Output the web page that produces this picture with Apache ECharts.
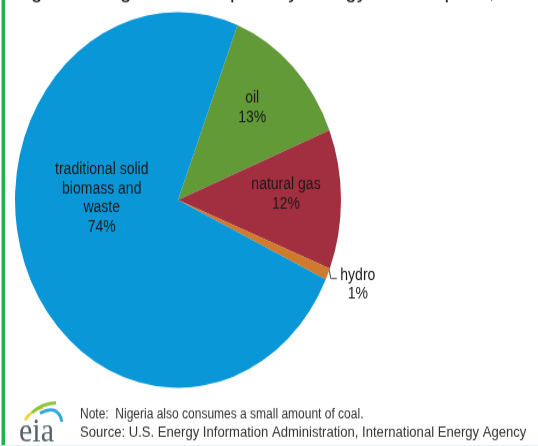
<!DOCTYPE html>
<html>
<head>
<meta charset="utf-8">
<script src="https://cdn.jsdelivr.net/npm/echarts@6/dist/echarts.min.js"></script>
<style>
  html, body { margin: 0; padding: 0; background: #fff; }
  #wrap { width: 538px; height: 446px; overflow: hidden; position: relative; background: #fff; }
  /* the figure is drawn at 538x387 and stretched vertically to fill the frame */
  #chart { width: 538px; height: 387px; transform: scaleY(1.1525); transform-origin: 0 0; }
</style>
</head>
<body>
<div id="wrap"><div id="chart"></div></div>
<script>
// Nigeria: total primary energy consumption by source (%)
const sources = ['oil', 'natural gas', 'hydro', 'traditional solid\nbiomass and\nwaste'];
const shares = [13, 12, 1, 74];
const sliceColors = ['#629a37', '#a22f40', '#cf7a2c', '#0a97d8'];

const titleText = "Figure 4: Nigeria's total primary energy consumption, 2011";
const noteText = 'Note:  Nigeria also consumes a small amount of coal.';
const sourceText = 'Source: U.S. Energy Information Administration, International Energy Agency';

// label nudges relative to the default inside position (px)
const labelNudge = [[14.6, -19.8], [23.5, -4.4], null, [2.2, -32.8]];

const chart = echarts.init(document.getElementById('chart'), null, { renderer: 'canvas' });

const labelFont = { fontFamily: 'Liberation Sans, Arial, sans-serif', fontSize: 14, color: '#1a1a1a', lineHeight: 16.5 };

chart.setOption({
  animation: false,
  backgroundColor: '#ffffff',
  graphic: [
    { type: 'rect', shape: { x: 1.5, y: 0, width: 3.5, height: 387 }, style: { fill: '#22b14c' }, silent: true },
    {
      type: 'text', x: 14, y: -7, scaleX: 1.08,
      style: { text: titleText, font: '19px "Liberation Sans", Arial, sans-serif', fill: '#222', verticalAlign: 'middle', align: 'left' }
    },
    {
      type: 'text', x: 80, y: 360,
      style: { text: noteText, font: '12px "Liberation Sans", Arial, sans-serif', fill: '#333', verticalAlign: 'middle' }
    },
    {
      type: 'text', x: 80, y: 375.3, scaleX: 1.09,
      style: { text: sourceText, font: '12px "Liberation Sans", Arial, sans-serif', fill: '#333', verticalAlign: 'middle' }
    },
    // eia logo
    {
      type: 'text', x: 19, y: 375,
      style: { text: 'eia', font: '30px "Liberation Serif", "DejaVu Serif", serif', fill: '#56616b', verticalAlign: 'middle' }
    },
    { type: 'bezierCurve', shape: { x1: 25, y1: 364.5, x2: 43, y2: 353.5, cpx1: 31, cpy1: 356 }, style: { stroke: '#f3d23a', lineWidth: 2.8, fill: null } },
    { type: 'bezierCurve', shape: { x1: 32, y1: 358, x2: 56, y2: 349.5, cpx1: 42, cpy1: 350 }, style: { stroke: '#8cc43f', lineWidth: 2.8, fill: null } },
    { type: 'bezierCurve', shape: { x1: 40, y1: 358.5, x2: 62, y2: 366, cpx1: 58, cpy1: 350 }, style: { stroke: '#2ea7e0', lineWidth: 2.8, fill: null } },
    { type: 'rect', shape: { x: 0, y: 386.2, width: 538, height: 0.8 }, style: { fill: '#dff1f3' }, silent: true }
  ],
  series: [{
    type: 'pie',
    center: [178, 173.5],
    radius: [0, 163],
    startAngle: 68.6,
    clockwise: true,
    avoidLabelOverlap: false,
    emphasis: { disabled: true },
    label: Object.assign({ position: 'inside', formatter: '{b}\n{d}%', align: 'center' }, labelFont),
    labelLine: { show: false },
    labelLayout: function (p) {
      const i = p.dataIndex;
      if (labelNudge[i]) {
        return { dx: labelNudge[i][0], dy: labelNudge[i][1] };
      }
      const pts = p.labelLinePoints;
      if (!pts) return {};
      const s = pts[0];
      return {
        x: s[0] + 30, y: s[1] + 9.5, align: 'center', verticalAlign: 'middle',
        labelLinePoints: [[s[0] + 1, s[1] - 5], [s[0] + 3, s[1] + 4], [s[0] + 9, s[1] + 4]]
      };
    },
    data: sources.map((name, i) => {
      const item = { name: name, value: shares[i], itemStyle: { color: sliceColors[i] } };
      if (i === 2) {
        item.label = { position: 'outside', alignTo: 'none' };
        item.labelLine = { show: true, length: 6, length2: 6, smooth: false, lineStyle: { color: '#444', width: 1 } };
      }
      return item;
    })
  }]
});
</script>
</body>
</html>
